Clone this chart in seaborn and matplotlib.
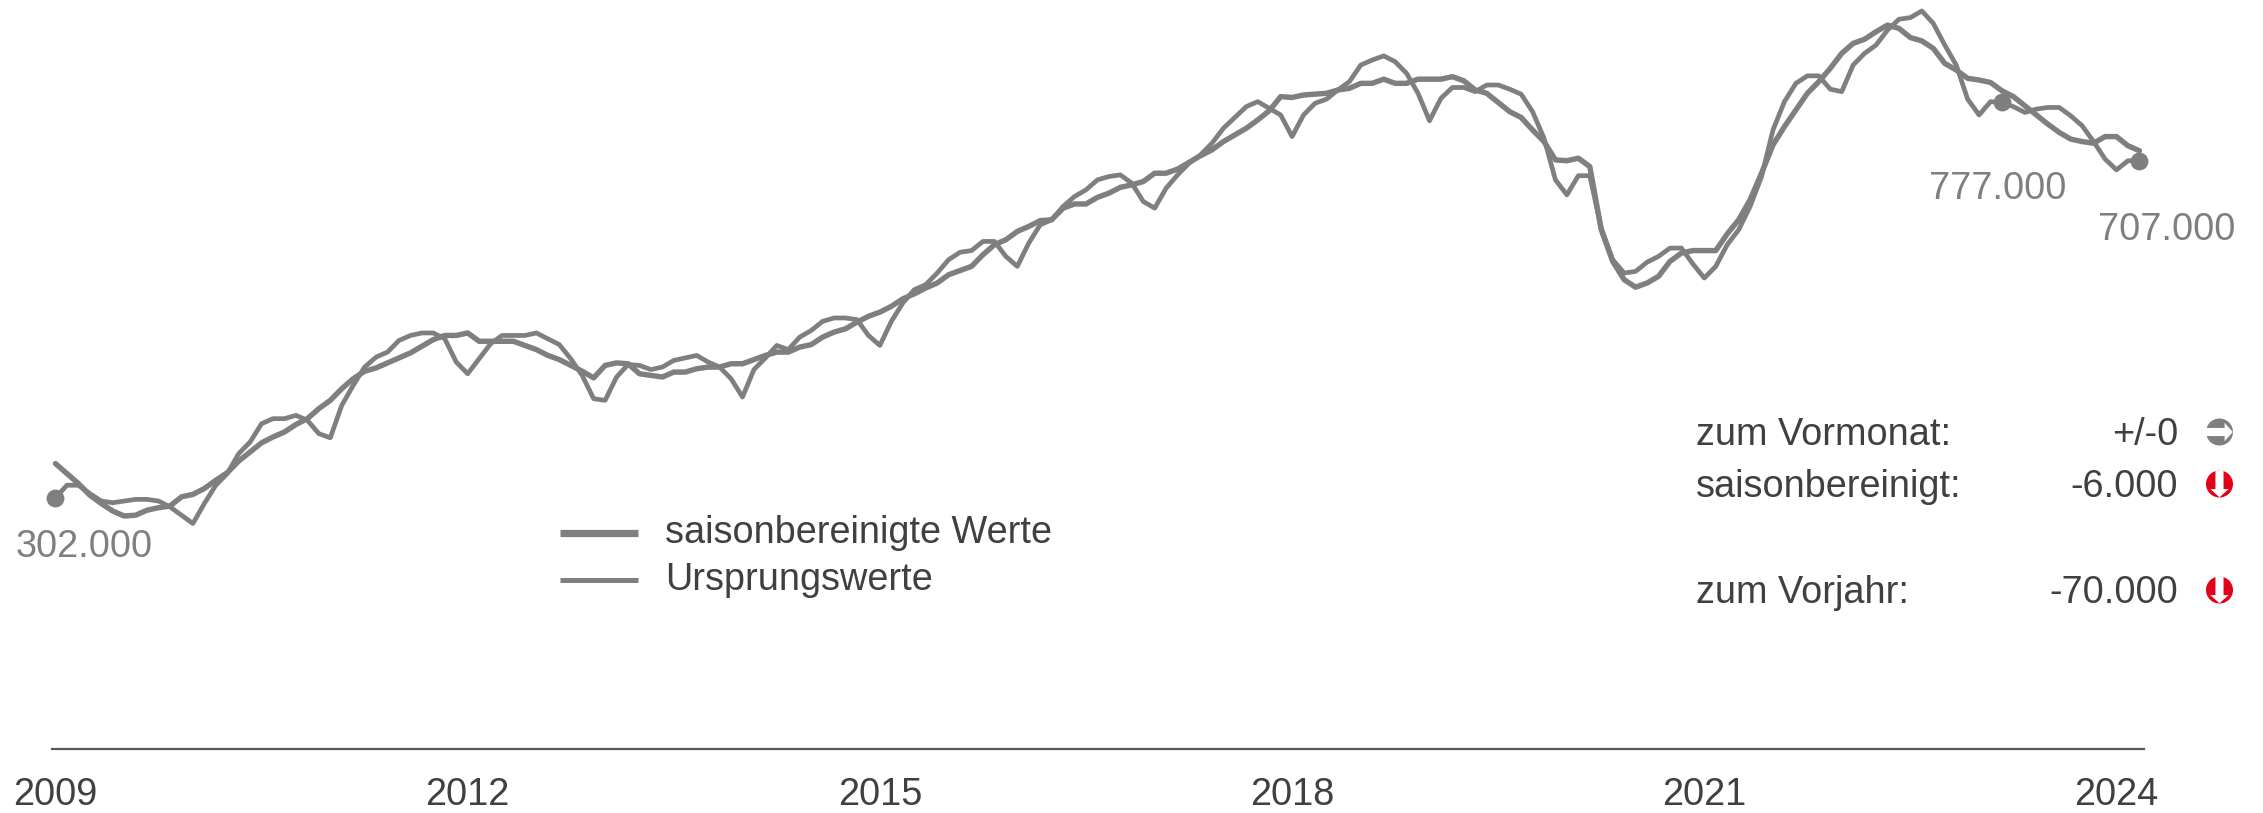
"""
Beschaeftigte: saisonbereinigte Werte und Ursprungswerte, Jan 2009 - Mar 2024.
"""

import numpy as np
import matplotlib.pyplot as plt
import seaborn as sns
from matplotlib.patches import Circle, Polygon

# values in thousands, one row per year
ursprung = [
    302, 317, 317, 307, 298, 296, 298, 300, 300, 298, 291, 281,
    271, 295, 317, 331, 355, 369, 391, 397, 397, 401, 395, 379,
    374, 413, 437, 459, 471, 477, 491, 497, 500, 500, 493, 465,
    451, 469, 487, 497, 497, 497, 500, 493, 486, 469, 449, 421,
    419, 447, 462, 461, 456, 459, 467, 470, 473, 465, 459, 445,
    423, 456, 470, 485, 480, 495, 503, 514, 518, 518, 516, 497,
    485, 514, 536, 552, 558, 572, 588, 597, 599, 610, 610, 592,
    580, 608, 630, 636, 652, 664, 672, 684, 688, 690, 680, 658,
    650, 674, 690, 704, 714, 728, 746, 759, 772, 778, 770, 762,
    736, 762, 776, 781, 792, 802, 822, 828, 833, 826, 812, 788,
    755, 782, 795, 795, 790, 798, 798, 793, 787, 766, 734, 684,
    666, 689, 689, 626, 588, 572, 574, 585, 592, 602, 602, 583,
    566, 580, 606, 624, 652, 688, 744, 778, 800, 809, 809, 793,
    790, 822, 836, 846, 864, 877, 879, 887, 872, 846, 822, 781,
    762, 778, 777, 772, 765, 769, 771, 771, 761, 749, 730, 709,
    696, 707, 707,
]
saisonbereinigt = [
    343, 331, 319, 305, 295, 286, 280, 281, 287, 290, 292, 303,
    306, 313, 323, 332, 346, 357, 368, 375, 381, 390, 397, 409,
    419, 433, 445, 454, 458, 464, 470, 476, 484, 492, 497, 497,
    500, 490, 490, 490, 490, 485, 480, 473, 468, 461, 454, 446,
    461, 464, 463, 451, 449, 447, 453, 453, 457, 459, 459, 463,
    463, 468, 473, 477, 477, 483, 486, 495, 501, 505, 513, 520,
    525, 532, 541, 547, 554, 560, 570, 575, 580, 594, 606, 612,
    622, 628, 635, 636, 650, 655, 655, 663, 668, 675, 678, 682,
    692, 692, 697, 705, 713, 720, 730, 738, 746, 756, 767, 784,
    783, 786, 787, 788, 792, 794, 800, 800, 805, 800, 800, 805,
    805, 805, 808, 803, 792, 788, 777, 766, 759, 744, 730, 708,
    707, 710, 700, 624, 586, 564, 555, 560, 568, 586, 596, 599,
    599, 599, 619, 636, 660, 692, 726, 748, 768, 788, 802, 818,
    836, 848, 853, 862, 870, 866, 855, 851, 842, 824, 816, 806,
    804, 801, 791, 784, 773, 762, 751, 741, 733, 730, 728, 736,
    736, 725, 719,
]
year_ticks = [0, 36, 72, 108, 144, 180]
year_labels = ['2009', '2012', '2015', '2018', '2021', '2024']
marked_months = [0, 170, 182]

value_labels = ['302.000', '777.000', '707.000']
table_labels = ['zum Vormonat:', 'saisonbereinigt:', 'zum Vorjahr:']
table_values = ['+/-0', '-6.000', '-70.000']

W, H = 2263, 813
GREY = '#7f7f7f'
DARK = '#404040'
RED = '#e2001a'
FS = 27.3

sns.set_theme(style='white')
plt.rcParams['font.family'] = ['Liberation Sans', 'DejaVu Sans']

months = np.arange(len(ursprung))

fig = plt.figure(figsize=(W / 100, H / 100), dpi=100)
ax = fig.add_axes([0, 0, 1, 1])

sns.lineplot(x=months, y=saisonbereinigt, ax=ax, color=GREY, linewidth=3.9,
             label='saisonbereinigte Werte', errorbar=None)
sns.lineplot(x=months, y=ursprung, ax=ax, color=GREY, linewidth=3.4,
             label='Ursprungswerte', errorbar=None)
sns.scatterplot(x=marked_months, y=[ursprung[i] for i in marked_months], ax=ax,
                color=GREY, s=165, linewidth=0, clip_on=False, zorder=3, legend=False)

# pixel scale of the original chart
px_per_month = 11.45
px_per_value = 1 / 1.2018
ax.set_xlim(-55.5 / px_per_month, (W - 55.5) / px_per_month)
ax.set_ylim(-(H - 749) / px_per_value, 749 / px_per_value)
ax.patch.set_alpha(0)

sns.despine(ax=ax, left=True, top=True, right=True)
ax.spines['bottom'].set_position(('data', 0))
ax.spines['bottom'].set_bounds(-0.3, 182.4)
ax.spines['bottom'].set_color('#595959')
ax.spines['bottom'].set_linewidth(1.6)
ax.set_yticks([])
ax.set_xticks(year_ticks)
ax.set_xticklabels(year_labels, fontsize=FS, color=DARK)
ax.tick_params(axis='x', length=0, pad=20)
ax.set_xlabel('')
ax.set_ylabel('')

leg = ax.legend(loc='upper left', bbox_to_anchor=(560 / W, 1 - 518 / H), frameon=False,
                fontsize=FS, handlelength=2.05, handletextpad=0.72, labelspacing=0.285,
                borderpad=0, borderaxespad=0)
for text in leg.get_texts():
    text.set_color(DARK)
    text.set_y(3)
leg.get_lines()[0].set_linewidth(5.2)
leg.get_lines()[1].set_linewidth(3.6)
for line in leg.get_lines():
    line.set_solid_capstyle('butt')

# overlay in image pixels for the free texts and the arrow icons
ov = fig.add_axes([0, 0, 1, 1])
ov.set_xlim(0, W)
ov.set_ylim(H, 0)
ov.axis('off')

ov.text(153, 557, value_labels[0], color=GREY, fontsize=FS, ha='right', va='baseline')
ov.text(2066, 199, value_labels[1], color=GREY, fontsize=FS, ha='right', va='baseline')
ov.text(2235, 240, value_labels[2], color=GREY, fontsize=FS, ha='right', va='baseline')

for label, value, base in zip(table_labels, table_values, [445, 497, 603]):
    ov.text(1696, base, label, color=DARK, fontsize=FS, ha='left', va='baseline')
    ov.text(2178, base, value, color=DARK, fontsize=FS, ha='right', va='baseline')


def arrow_icon(cx, cy, color, down=False, r=13.5):
    """Filled circle with a white arrow cut through it."""
    ov.add_patch(Circle((cx, cy), r, color=color, lw=0))
    shape = np.array([(-1.02, -0.3), (0.38, -0.3), (0.38, -0.68), (0.98, 0),
                      (0.38, 0.68), (0.38, 0.3), (-1.02, 0.3)])
    if down:
        shape = shape[:, ::-1]
    ov.add_patch(Polygon(shape * r + [cx, cy], closed=True, color='white', lw=0))


arrow_icon(2219.5, 432, GREY)
arrow_icon(2219.5, 484, RED, down=True)
arrow_icon(2219.5, 590, RED, down=True)

fig.savefig('out.png', dpi=100)
plt.close(fig)
